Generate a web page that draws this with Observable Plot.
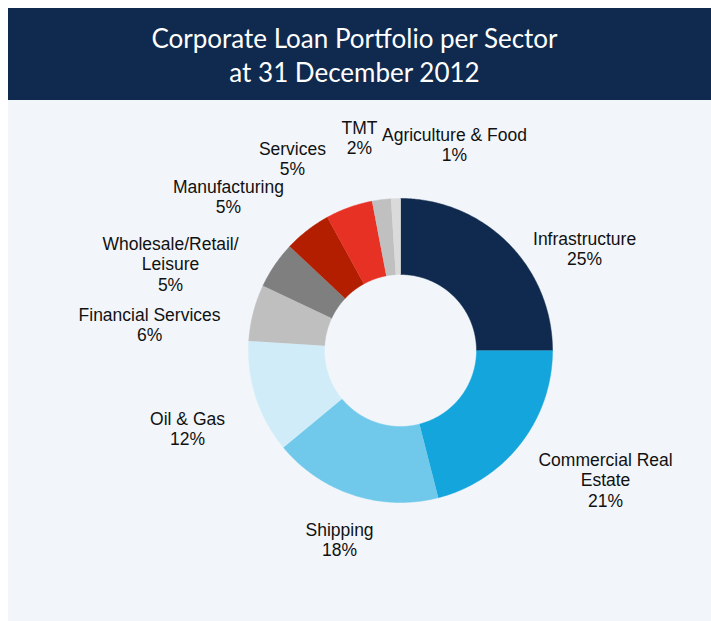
<!DOCTYPE html>
<html>
<head>
<meta charset="utf-8">
<script src="https://cdn.jsdelivr.net/npm/d3@7"></script>
<script src="https://cdn.jsdelivr.net/npm/@observablehq/plot@0.6"></script>
<style>
  html, body { margin: 0; padding: 0; background: #ffffff; }
  #title {
    position: absolute; left: 8px; top: 8px; width: 703px; height: 92px;
    background: #0f2a4e; color: #ffffff;
    font-family: Lato, "Open Sans", sans-serif; font-size: 26px; line-height: 34px;
  }
  #title div { position: absolute; left: 0; width: 693px; text-align: center; }
  #chart {
    position: absolute; left: 8px; top: 100px; width: 703px; height: 521px;
    background: #f2f6fa;
  }
</style>
</head>
<body>
<div id="title">
  <div style="top:13px">Corporate Loan Portfolio per Sector</div>
  <div style="top:47px">at 31 December 2012</div>
</div>
<div id="chart"></div>
<script>
// ---- data ----
const sectors = ["Infrastructure", "Commercial Real Estate", "Shipping", "Oil & Gas",
  "Financial Services", "Wholesale/Retail/Leisure", "Manufacturing", "Services", "TMT",
  "Agriculture & Food"];
const shares = [25, 21, 18, 12, 6, 5, 5, 5, 2, 1];
const labelNames = ["Infrastructure", "Commercial Real\nEstate", "Shipping", "Oil & Gas",
  "Financial Services", "Wholesale/Retail/\nLeisure", "Manufacturing", "Services", "TMT",
  "Agriculture & Food"];

// ---- styles / layout ----
const colors = ["#0f2a4e", "#13a5dc", "#70c8ea", "#d0ecf8", "#bfbfbf", "#7f7f7f",
  "#b31e00", "#e83125", "#c0c0c0", "#dadada"];
const innerRatio = 0.5;
// label anchor positions in donut-radius units (layout)
const labelX = [1.211, 1.349, -0.401, -1.401, -1.651, -1.513, -1.132, -0.711, -0.270, 0.355];
const labelY = [0.671, -0.849, -1.243, -0.513, 0.171, 0.572, 1.013, 1.263, 1.401, 1.355];

// ---- build slice outlines from the values ----
const arcs = d3.pie().sort(null).value(d => d)(shares);
const pts = [];
arcs.forEach((a, i) => {
  const n = Math.max(4, Math.ceil((a.endAngle - a.startAngle) / 0.01));
  for (let k = 0; k <= n; k++) {
    const t = a.startAngle + (a.endAngle - a.startAngle) * k / n;
    pts.push({sector: sectors[i], x: Math.sin(t), y: Math.cos(t)});
  }
  for (let k = n; k >= 0; k--) {
    const t = a.startAngle + (a.endAngle - a.startAngle) * k / n;
    pts.push({sector: sectors[i], x: innerRatio * Math.sin(t), y: innerRatio * Math.cos(t)});
  }
});
const labels = sectors.map((s, i) => ({
  sector: s, x: labelX[i], y: labelY[i], text: labelNames[i] + "\n" + shares[i] + "%"
}));

const W = 703, H = 521, cx = 392, cy = 250, R = 152;
const chart = Plot.plot({
  width: W, height: H,
  marginLeft: cx - R, marginRight: W - (cx + R),
  marginTop: cy - R, marginBottom: H - (cy + R),
  x: {domain: [-1, 1], axis: null},
  y: {domain: [-1, 1], axis: null},
  color: {domain: sectors, range: colors},
  style: {background: "transparent", fontFamily: "'Liberation Sans', Arial, sans-serif", overflow: "visible"},
  marks: [
    Plot.line(pts, {x: "x", y: "y", z: "sector", fill: "sector", stroke: "sector", strokeWidth: 0.5, curve: "linear"}),
    Plot.text(labels, {x: "x", y: "y", text: "text", fontSize: 17.5, lineHeight: 1.18, lineAnchor: "middle", textAnchor: "middle", fill: "#111111"})
  ]
});
document.getElementById("chart").appendChild(chart);
</script>
</body>
</html>
